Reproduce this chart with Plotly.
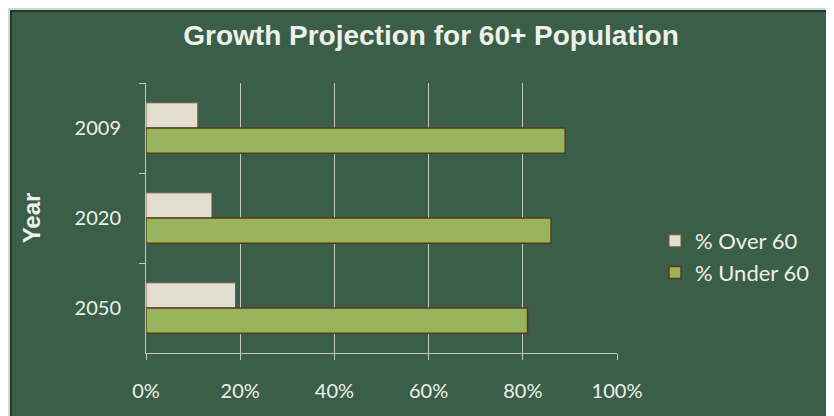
import plotly.graph_objects as go

years = ["2009", "2020", "2050"]
pct_over_60 = [11, 14, 19]
pct_under_60 = [89, 86, 81]
x_ticks = [0, 20, 40, 60, 80, 100]
x_tick_labels = ["0%", "20%", "40%", "60%", "80%", "100%"]

PANEL = "#3b5e49"
MINT = "#cadcd0"
EDGE = "#25372c"
TEXT = "#eef1ea"
GRID = "#bfcbc0"

# page body has an 8px margin; figure pixel = screen pixel - OFF
OFF = 8
W, H = 826, 408
ML, MR, MT, MB = 146 - OFF, W - (617 - OFF), 83 - OFF, H - (353 - OFF)
PW, PH = W - ML - MR, H - MT - MB


def px_x(screen):
    return (screen - OFF - ML) / PW


def px_y(screen):
    return (H - MB - (screen - OFF)) / PH


fig = go.Figure()
fig.add_trace(go.Bar(
    y=years, x=pct_over_60, orientation="h", name="% Over 60",
    marker=dict(color="#e2dfd1", line=dict(color="#7a5a3a", width=1)),
))
fig.add_trace(go.Bar(
    y=years, x=pct_under_60, orientation="h", name="% Under 60",
    marker=dict(color="#98b45c", line=dict(color="#5a3a18", width=1.5)),
))

shapes = [
    dict(type="rect", xref="paper", yref="paper", x0=px_x(OFF - 1), x1=px_x(10),
         y0=px_y(OFF + H + 1), y1=px_y(OFF - 1), fillcolor=MINT, line=dict(width=0)),
    dict(type="rect", xref="paper", yref="paper", x0=px_x(OFF - 1), x1=px_x(OFF + W + 1),
         y0=px_y(10), y1=px_y(OFF - 1), fillcolor=MINT, line=dict(width=0)),
    dict(type="line", xref="paper", yref="paper", x0=px_x(11), x1=px_x(11),
         y0=px_y(OFF + H + 1), y1=px_y(10), line=dict(color=EDGE, width=2)),
    dict(type="line", xref="paper", yref="paper", x0=px_x(10), x1=px_x(OFF + W + 1),
         y0=px_y(11), y1=px_y(11), line=dict(color=EDGE, width=2)),
]

fig.update_layout(
    width=W, height=H,
    margin=dict(l=ML, r=MR, t=MT, b=MB, pad=0),
    paper_bgcolor=PANEL, plot_bgcolor=PANEL,
    barmode="group", bargap=0.44, bargroupgap=0,
    title=dict(text="<b>Growth Projection for 60+ Population</b>",
               x=(431 - OFF) / W, xanchor="center", y=1 - (35 - OFF) / H, yanchor="middle",
               font=dict(family="Liberation Sans, Arial, sans-serif", size=28, color=TEXT)),
    font=dict(family="Lato, Open Sans, sans-serif", color=TEXT),
    showlegend=True,
    legend=dict(x=px_x(655), xanchor="left", y=px_y(220), yanchor="top",
                font=dict(family="Lato, sans-serif", size=22, color=TEXT),
                bgcolor="rgba(0,0,0,0)", traceorder="normal",
                itemwidth=30),
    shapes=shapes,
)

fig.update_xaxes(
    range=[0, 100], tickvals=x_ticks, ticktext=x_tick_labels,
    showgrid=True, gridcolor=GRID, gridwidth=1,
    showline=True, linecolor=GRID, linewidth=1,
    ticks="outside", ticklen=6, tickcolor=GRID,
    tickfont=dict(family="Lato, sans-serif", size=20, color=TEXT),
    ticklabelstandoff=14,
    zeroline=False, fixedrange=True,
)
fig.update_yaxes(
    autorange="reversed", type="category",
    showgrid=False,
    showline=True, linecolor=GRID, linewidth=1,
    ticks="outside", ticklen=6, tickcolor=GRID, tickson="boundaries",
    tickfont=dict(family="Lato, sans-serif", size=20, color=TEXT),
    ticklabelstandoff=20,
    title=dict(text="<b>Year</b>", standoff=27,
               font=dict(family="Liberation Sans, Arial, sans-serif", size=24, color=TEXT)),
    fixedrange=True,
)

fig.write_html("out.html")
